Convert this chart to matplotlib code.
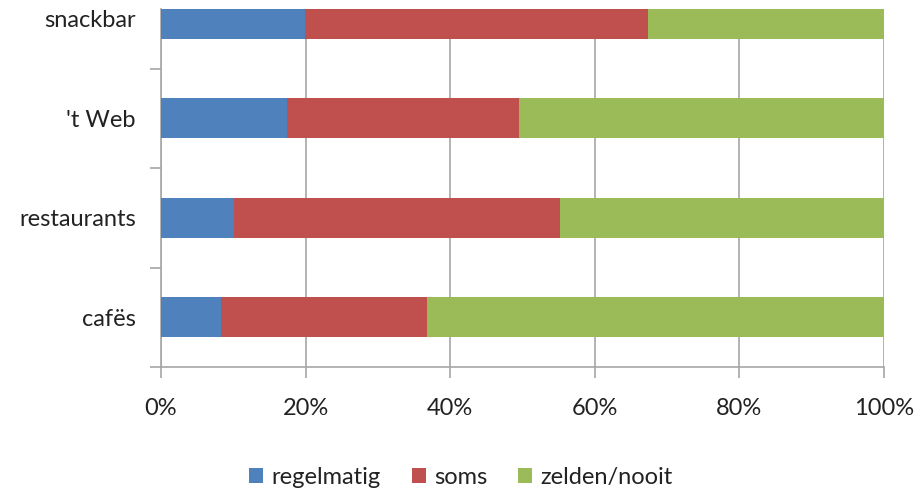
import numpy as np
import matplotlib
matplotlib.use("Agg")
import matplotlib.pyplot as plt
from matplotlib.patches import Patch

# --- data (percent), bottom to top ---
categories = ["cafës", "restaurants", "'t Web", "snackbar"]
regelmatig = [8.3, 10.1, 17.4, 19.9]
soms = [28.5, 45.1, 32.1, 47.5]
zelden = [100 - a - b for a, b in zip(regelmatig, soms)]

series = [
    ("regelmatig", regelmatig, "#4F81BD"),
    ("soms", soms, "#C0504D"),
    ("zelden/nooit", zelden, "#9BBB59"),
]

plt.rcParams['font.family'] = ['Lato', 'DejaVu Sans']

fig = plt.figure(figsize=(9.22, 4.94), dpi=100)
ax = fig.add_axes([0.1746, 0.2571, 0.9588 - 0.1746, 0.9818 - 0.2571])

y = np.arange(len(categories))
left = np.zeros(len(categories))
for name, vals, color in series:
    ax.barh(y, vals, left=left, height=0.4, color=color, zorder=3)
    left += np.array(vals)

ax.set_xlim(0, 100)
ax.set_ylim(-0.5, 3.1)

grid_c = "#a6a6a6"
txt_c = "#222222"
ax.set_xticks([0, 20, 40, 60, 80, 100])
ax.set_xticklabels(["0%", "20%", "40%", "60%", "80%", "100%"])
ax.xaxis.grid(True, color=grid_c, linewidth=1.2, zorder=0)
ax.set_yticks(y)
ax.set_yticklabels(categories)
ax.set_yticks([-0.5, 0.5, 1.5, 2.5], minor=True)
ax.tick_params(axis='y', which='major', length=0, pad=18, labelsize=17, labelcolor=txt_c)
ax.tick_params(axis='y', which='minor', length=8, color=grid_c, width=1.2)
ax.tick_params(axis='x', length=8, color=grid_c, width=1.2, pad=14,
               labelsize=17, labelcolor=txt_c)

for s in ["top", "right"]:
    ax.spines[s].set_visible(False)
for s in ["left", "bottom"]:
    ax.spines[s].set_color(grid_c)
    ax.spines[s].set_linewidth(1.2)

handles = [Patch(facecolor=c, label=n) for n, _, c in series]
fig.legend(handles=handles, loc="center", bbox_to_anchor=(0.5, 0.033), ncol=3,
           frameon=False, fontsize=17, handlelength=0.6, handleheight=0.6,
           handletextpad=0.35, columnspacing=1.3, labelcolor=txt_c)

fig.savefig("out.png", dpi=100)
